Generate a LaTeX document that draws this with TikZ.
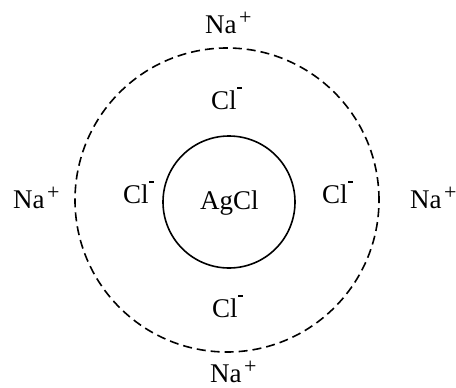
\documentclass[tikz,border=0pt]{standalone}
\usepackage{fontspec}
\setmainfont{Liberation Serif}
\newcommand\plussup{\hspace{2.5pt}\raisebox{8.5pt}{\fontsize{22}{22}\selectfont +}}
\newcommand\minussup{\hspace{0.5pt}\raisebox{20pt}{\rule{4.5pt}{2pt}}}
\begin{document}
\begin{tikzpicture}[x=1pt,y=-1pt,
  lbl/.style={anchor=base west, inner sep=0pt, font=\fontsize{27}{30}\selectfont},
  shell/.style={draw, circle, inner sep=0pt, line width=1.6pt, dash pattern=on 9pt off 5pt},
  core/.style={draw, circle, inner sep=0pt, line width=1.6pt}]
\useasboundingbox (0,0) rectangle (456,388);
\node[shell, minimum size=304pt] (outer) at (227,200) {};
\node[core, minimum size=132pt] (inner) at (229,202) {};
\node[lbl] (agcl) at (200,209) {AgCl};
\node[lbl] (clt) at (211,109) {Cl\minussup};
\node[lbl] (cll) at (123,203) {Cl\minussup};
\node[lbl] (clr) at (322,203) {Cl\minussup};
\node[lbl] (clb) at (212,317) {Cl\minussup};
\node[lbl] (nat) at (205,33) {Na\plussup};
\node[lbl] (nab) at (210,382) {Na\plussup};
\node[lbl] (nal) at (13,208) {Na\plussup};
\node[lbl] (nar) at (410,208) {Na\plussup};
\end{tikzpicture}
\end{document}
